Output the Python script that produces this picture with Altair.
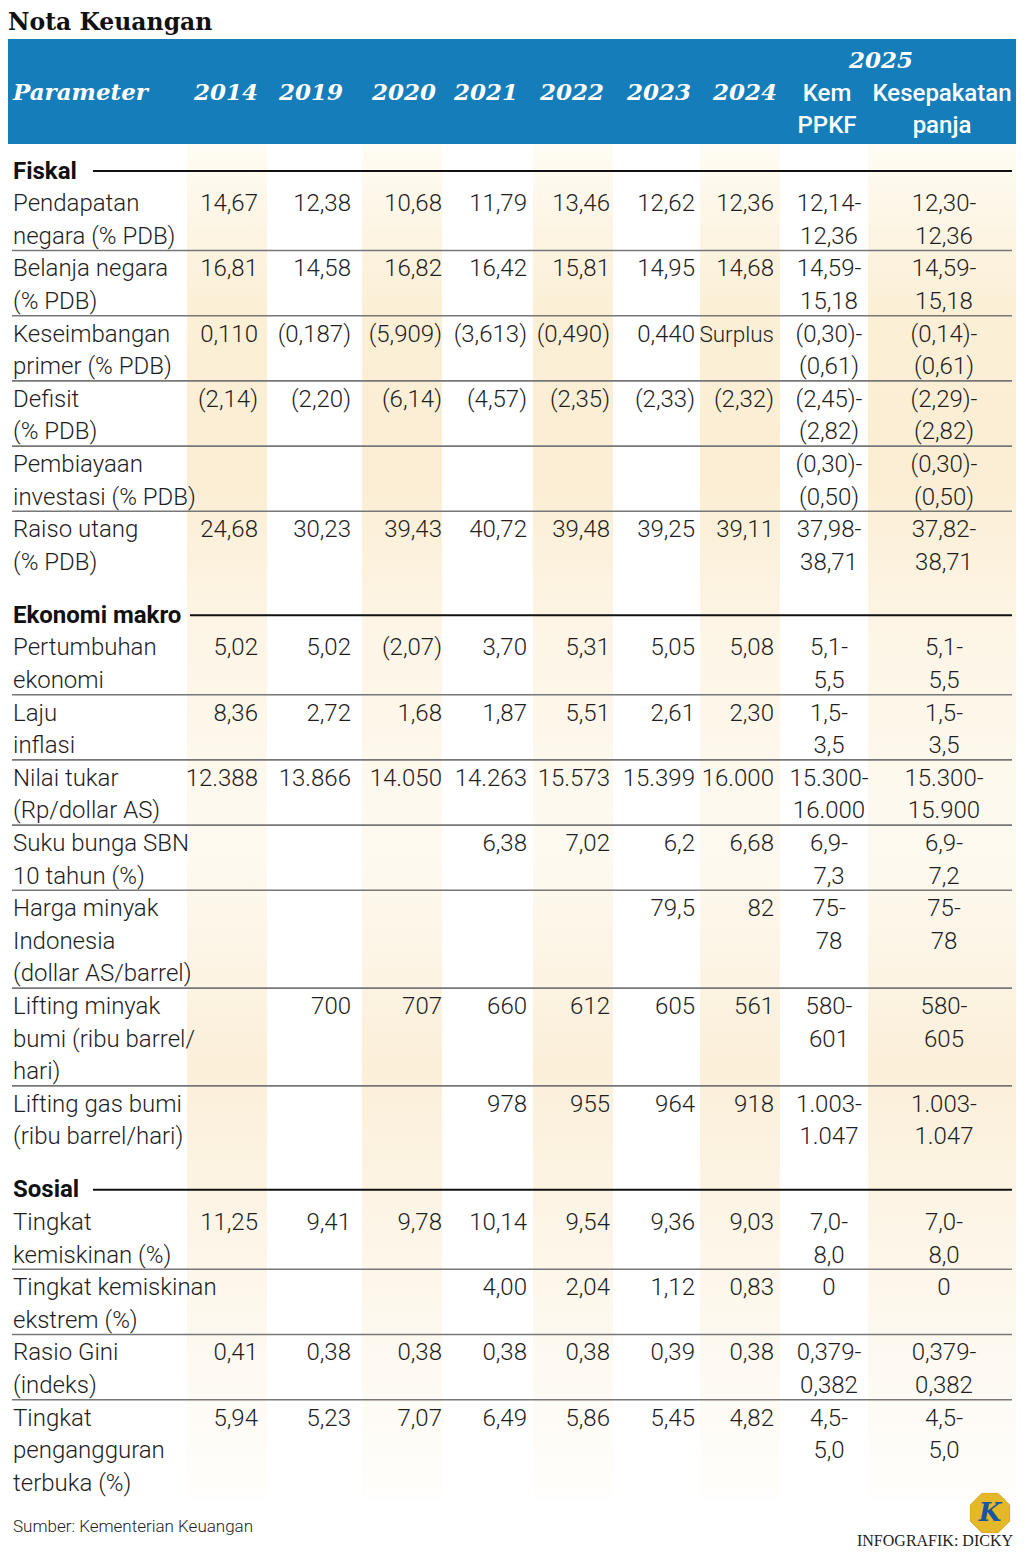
import altair as alt
import pandas as pd

# ---------------- data ----------------
title_text = "Nota Keuangan"
param_header = "Parameter"
year_headers = ["2014", "2019", "2020", "2021", "2022", "2023", "2024"]
header_2025 = "2025"
sub_2025 = ["Kem\nPPKF", "Kesepakatan\npanja"]

sections = ["Fiskal", "Ekonomi makro", "Sosial"]
row_section = [0, 0, 0, 0, 0, 0, 1, 1, 1, 1, 1, 1, 1, 2, 2, 2, 2]

labels = [
    "Pendapatan\nnegara (% PDB)",
    "Belanja negara\n(% PDB)",
    "Keseimbangan\nprimer (% PDB)",
    "Defisit\n(% PDB)",
    "Pembiayaan\ninvestasi (% PDB)",
    "Raiso utang\n(% PDB)",
    "Pertumbuhan\nekonomi",
    "Laju\ninflasi",
    "Nilai tukar\n(Rp/dollar AS)",
    "Suku bunga SBN\n10 tahun (%)",
    "Harga minyak\nIndonesia\n(dollar AS/barrel)",
    "Lifting minyak\nbumi (ribu barrel/\nhari)",
    "Lifting gas bumi\n(ribu barrel/hari)",
    "Tingkat\nkemiskinan (%)",
    "Tingkat kemiskinan\nekstrem (%)",
    "Rasio Gini\n(indeks)",
    "Tingkat\npengangguran\nterbuka (%)",
]

v2014 = ["14,67", "16,81", "0,110", "(2,14)", "", "24,68", "5,02", "8,36", "12.388", "", "", "", "",
         "11,25", "", "0,41", "5,94"]
v2019 = ["12,38", "14,58", "(0,187)", "(2,20)", "", "30,23", "5,02", "2,72", "13.866", "", "", "700", "",
         "9,41", "", "0,38", "5,23"]
v2020 = ["10,68", "16,82", "(5,909)", "(6,14)", "", "39,43", "(2,07)", "1,68", "14.050", "", "", "707", "",
         "9,78", "", "0,38", "7,07"]
v2021 = ["11,79", "16,42", "(3,613)", "(4,57)", "", "40,72", "3,70", "1,87", "14.263", "6,38", "", "660", "978",
         "10,14", "4,00", "0,38", "6,49"]
v2022 = ["13,46", "15,81", "(0,490)", "(2,35)", "", "39,48", "5,31", "5,51", "15.573", "7,02", "", "612", "955",
         "9,54", "2,04", "0,38", "5,86"]
v2023 = ["12,62", "14,95", "0,440", "(2,33)", "", "39,25", "5,05", "2,61", "15.399", "6,2", "79,5", "605", "964",
         "9,36", "1,12", "0,39", "5,45"]
v2024 = ["12,36", "14,68", "Surplus", "(2,32)", "", "39,11", "5,08", "2,30", "16.000", "6,68", "82", "561", "918",
         "9,03", "0,83", "0,38", "4,82"]
v_kem = ["12,14-\n12,36", "14,59-\n15,18", "(0,30)-\n(0,61)", "(2,45)-\n(2,82)", "(0,30)-\n(0,50)",
         "37,98-\n38,71", "5,1-\n5,5", "1,5-\n3,5", "15.300-\n16.000", "6,9-\n7,3", "75-\n78", "580-\n601",
         "1.003-\n1.047", "7,0-\n8,0", "0", "0,379-\n0,382", "4,5-\n5,0"]
v_panja = ["12,30-\n12,36", "14,59-\n15,18", "(0,14)-\n(0,61)", "(2,29)-\n(2,82)", "(0,30)-\n(0,50)",
           "37,82-\n38,71", "5,1-\n5,5", "1,5-\n3,5", "15.300-\n15.900", "6,9-\n7,2", "75-\n78", "580-\n605",
           "1.003-\n1.047", "7,0-\n8,0", "0", "0,379-\n0,382", "4,5-\n5,0"]

source_text = "Sumber: Kementerian Keuangan"
credit_text = "INFOGRAFIK: DICKY"
logo_letter = "K"

# ---------------- layout (reference pixel space, page margin 8px) ----------------
year_right = [258, 351, 442, 527, 610, 695, 774]
year_head_center = [226, 311, 404, 486, 572, 659, 745]
c2025 = [829, 944]
shade_cols = [(187, 267), (362, 442), (533, 613), (700, 780), (868, 1022)]
sec_rule_start = [93, 190, 93]
LINE = 32.6
SEC_GAP = 53
BASE = 8.5          # centre -> alphabetic baseline
LABEL_X = 13
RULE_END = 1012

xs = alt.Scale(domain=[8, 1016], nice=False, zero=False)
ys = alt.Scale(domain=[8, 1551], nice=False, zero=False, reverse=True)
X = lambda f="x": alt.X(f + ":Q", scale=xs, axis=None)
Y = lambda f="y": alt.Y(f + ":Q", scale=ys, axis=None)

BODY_FONT = "Roboto"
BODY_SIZE = 24
BODY_COLOR = "#1e1e1e"

# ---------------- build positioned records ----------------
label_rows, right_rows, center_rows, sec_rows, sep_rows, secrule_rows = [], [], [], [], [], []
year_cols = [v2014, v2019, v2020, v2021, v2022, v2023, v2024]
cursor = 170.0
for s, sec in enumerate(sections):
    sec_rows.append({"x": LABEL_X, "y": cursor + BASE, "t": sec})
    secrule_rows.append({"x": sec_rule_start[s], "x2": RULE_END, "y": cursor + 1})
    line_c = cursor + LINE
    idxs = [i for i, r in enumerate(row_section) if r == s]
    for j, i in enumerate(idxs):
        lab = labels[i].split("\n")
        n = max(len(lab), len(v_kem[i].split("\n")), len(v_panja[i].split("\n")))
        if j > 0:
            sep_rows.append({"x": LABEL_X - 1, "x2": RULE_END, "y": line_c - LINE / 2 - 1})
        for k, t in enumerate(lab):
            label_rows.append({"x": LABEL_X, "y": line_c + k * LINE + BASE, "t": t})
        for c, col in enumerate(year_cols):
            if col[i]:
                # word entries (not numbers) are set a touch smaller, as the narrow original face does
                fs = BODY_SIZE - 1.5 if col[i].isalpha() else BODY_SIZE
                right_rows.append({"x": year_right[c], "y": line_c + BASE, "t": col[i], "fs": fs})
        for c, col in enumerate([v_kem, v_panja]):
            for k, t in enumerate(col[i].split("\n")):
                center_rows.append({"x": c2025[c], "y": line_c + k * LINE + BASE, "t": t})
        line_c += n * LINE
    cursor = line_c - LINE + SEC_GAP


def text_layer(rows, align, font=BODY_FONT, size=BODY_SIZE, weight=300, style="normal", color=BODY_COLOR,
               baseline="alphabetic"):
    return alt.Chart(pd.DataFrame(rows)).mark_text(
        align=align, baseline=baseline, font=font, fontSize=size, fontWeight=weight,
        fontStyle=style, color=color
    ).encode(x=X(), y=Y(), text="t:N")


layers = []

# shaded columns
shade_df = pd.DataFrame([{"x": a, "x2": b, "y": 144, "y2": 1500} for a, b in shade_cols])
grad = alt.LinearGradient(
    gradient="linear", x1=0, x2=0, y1=0, y2=1,
    stops=[
        alt.GradientStop(offset=0.0, color="#fffcf4"),
        alt.GradientStop(offset=0.12, color="#fbefd6"),
        alt.GradientStop(offset=0.25, color="#fbeed4"),
        alt.GradientStop(offset=0.36, color="#fdf5e6"),
        alt.GradientStop(offset=0.52, color="#fefaf1"),
        alt.GradientStop(offset=0.68, color="#fbefd9"),
        alt.GradientStop(offset=0.82, color="#fdf6e9"),
        alt.GradientStop(offset=1.0, color="#fffefc"),
    ],
)
layers.append(alt.Chart(shade_df).mark_rect(color=grad).encode(x=X(), x2="x2:Q", y=Y(), y2="y2:Q"))

# header bar
head_df = pd.DataFrame([{"x": 0, "x2": 1021, "y": 39, "y2": 144}])
layers.append(alt.Chart(head_df).mark_rect(color="#157db9").encode(x=X(), x2="x2:Q", y=Y(), y2="y2:Q"))

# separators
layers.append(alt.Chart(pd.DataFrame(sep_rows)).mark_rule(color="#777777", strokeWidth=1.6)
              .encode(x=X(), x2="x2:Q", y=Y()))
layers.append(alt.Chart(pd.DataFrame(secrule_rows)).mark_rule(color="#111111", strokeWidth=2)
              .encode(x=X(), x2="x2:Q", y=Y()))

# title
layers.append(text_layer([{"x": 8, "y": 29.5, "t": title_text}], "left", font="DejaVu Serif", size=23.5,
                         weight="bold", color="#111111"))
# header texts
layers.append(text_layer([{"x": LABEL_X, "y": 100, "t": param_header}], "left", font="DejaVu Serif",
                         size=23, weight="bold", style="italic", color="white"))
layers.append(text_layer([{"x": c, "y": 100, "t": t} for c, t in zip(year_head_center, year_headers)] +
                         [{"x": 881, "y": 68, "t": header_2025}],
                         "center", font="DejaVu Serif", size=23, weight="bold", style="italic", color="white"))
sub_rows = []
for c, s in zip(c2025, sub_2025):
    for k, t in enumerate(s.split("\n")):
        sub_rows.append({"x": c - 2, "y": 101 + k * 32, "t": t})
layers.append(text_layer(sub_rows, "center", size=24, weight=500, color="white"))

# body
layers.append(text_layer(sec_rows, "left", weight="bold", color="#111111"))
layers.append(text_layer(label_rows, "left"))
layers.append(
    alt.Chart(pd.DataFrame(right_rows)).mark_text(
        align="right", baseline="alphabetic", font=BODY_FONT, fontWeight=300, color=BODY_COLOR
    ).encode(x=X(), y=Y(), text="t:N", size=alt.Size("fs:Q", scale=None, legend=None))
)
layers.append(text_layer(center_rows, "center"))

# footer
layers.append(text_layer([{"x": LABEL_X, "y": 1532, "t": source_text}], "left", size=17))
layers.append(text_layer([{"x": 1013, "y": 1546, "t": credit_text}], "right", font="Liberation Serif",
                         size=16, weight="normal", color="#222222"))
octagon = "M0.383,-0.924L0.924,-0.383L0.924,0.383L0.383,0.924L-0.383,0.924L-0.924,0.383L-0.924,-0.383L-0.383,-0.924Z"
logo_df = pd.DataFrame([{"x": 990, "y": 1513, "t": logo_letter}])
layers.append(alt.Chart(logo_df).mark_point(shape=octagon, size=1800, filled=True, color="#e4b828",
                                            opacity=1, stroke="#d9a91c", strokeWidth=1)
              .encode(x=X(), y=Y()))
layers.append(text_layer([{"x": 990, "y": 1513, "t": logo_letter}], "center", font="DejaVu Serif", size=26,
                         weight="bold", style="italic", color="#1a56a0", baseline="middle"))

chart = alt.layer(*layers).properties(
    width=1008, height=1543, padding=0, autosize="none", background="white"
).configure_view(stroke=None)

chart.save("out.html", embed_options={"renderer": "svg", "actions": False})
